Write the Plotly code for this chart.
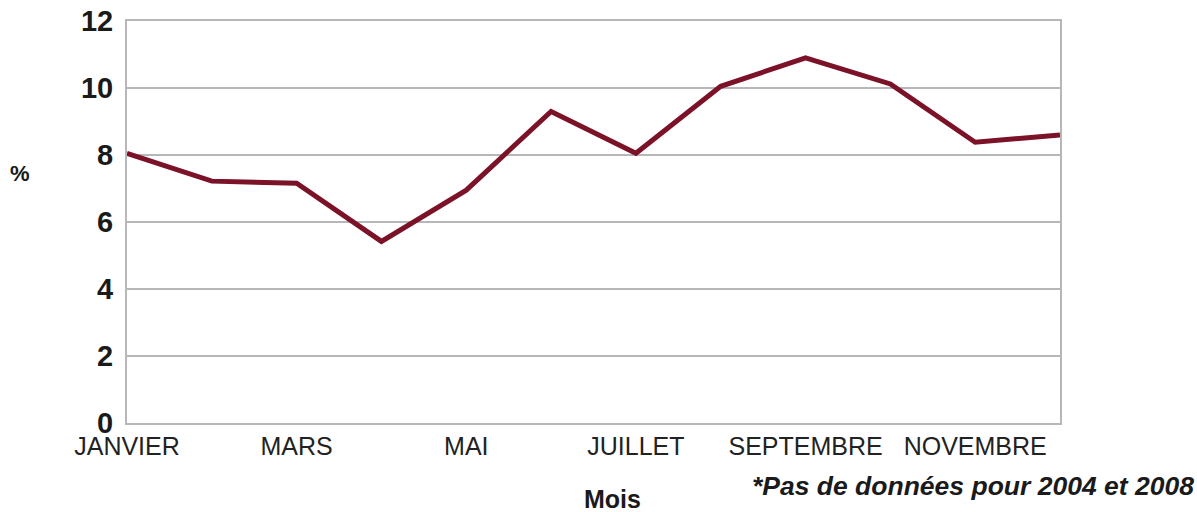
import plotly.graph_objects as go

months = ["JANVIER", "FÉVRIER", "MARS", "AVRIL", "MAI", "JUIN", "JUILLET",
          "AOÛT", "SEPTEMBRE", "OCTOBRE", "NOVEMBRE", "DÉCEMBRE"]
values = [8.05, 7.22, 7.16, 5.42, 6.95, 9.30, 8.05, 10.05, 10.9, 10.12, 8.38, 8.6]
tick_labels = ["JANVIER", "MARS", "MAI", "JUILLET", "SEPTEMBRE", "NOVEMBRE"]
y_ticks = [0, 2, 4, 6, 8, 10, 12]

FW, FH = 1197, 512
L, T = 127, 21
PW, PH = 933, 402
R, B = FW - L - PW, FH - T - PH

fig = go.Figure()
fig.add_trace(go.Scatter(x=months, y=values, mode="lines",
                         line=dict(color="#7c1228", width=5), hoverinfo="x+y"))

grid = "#b7b7b9"
fig.update_layout(
    width=FW, height=FH,
    margin=dict(l=L, r=R, t=T, b=B, autoexpand=False),
    paper_bgcolor="white", plot_bgcolor="white",
    showlegend=False,
    font=dict(family="Liberation Sans, Arial, sans-serif", color="#222222"),
    xaxis=dict(type="category", range=[0, 11], tickmode="array",
               tickvals=tick_labels, ticktext=tick_labels, automargin=False,
               showgrid=False, showline=True, linecolor=grid, linewidth=2,
               mirror=True, ticks="", tickfont=dict(size=25, color="#222222"),
               ticklabelstandoff=0, ticklabeloverflow="allow"),
    yaxis=dict(range=[0, 12], tickvals=y_ticks, showgrid=True, gridcolor=grid,
               gridwidth=2, showline=True, linecolor=grid, linewidth=2,
               mirror=True, ticks="", zeroline=False, automargin=False,
               tickfont=dict(size=29, color="#1a1a1a", weight="bold"),
               ticklabelstandoff=6, ticklabeloverflow="allow"),
)

def px(xp):
    return (xp - L) / PW

def py(yp):
    return (FH - B - yp) / PH

fig.add_annotation(text="<b>%</b>", x=px(20), y=py(173), xref="paper", yref="paper",
                   xanchor="center", yanchor="middle", showarrow=False,
                   font=dict(size=22, color="#1a1a1a"))
fig.add_annotation(text="<b>Mois</b>", x=px(612), y=py(499), xref="paper", yref="paper",
                   xanchor="center", yanchor="middle", showarrow=False,
                   font=dict(size=25, color="#1a1a1a"))
fig.add_annotation(text="<b><i>*Pas de données pour 2004 et 2008</i></b>",
                   x=px(1196), y=py(486), xref="paper", yref="paper",
                   xanchor="right", yanchor="middle", showarrow=False,
                   font=dict(size=26.5, color="#1a1a1a"))

fig.write_html(
    "out.html",
    config={"displayModeBar": False},
    post_script="document.body.style.margin='0';document.body.style.overflow='hidden';",
)
